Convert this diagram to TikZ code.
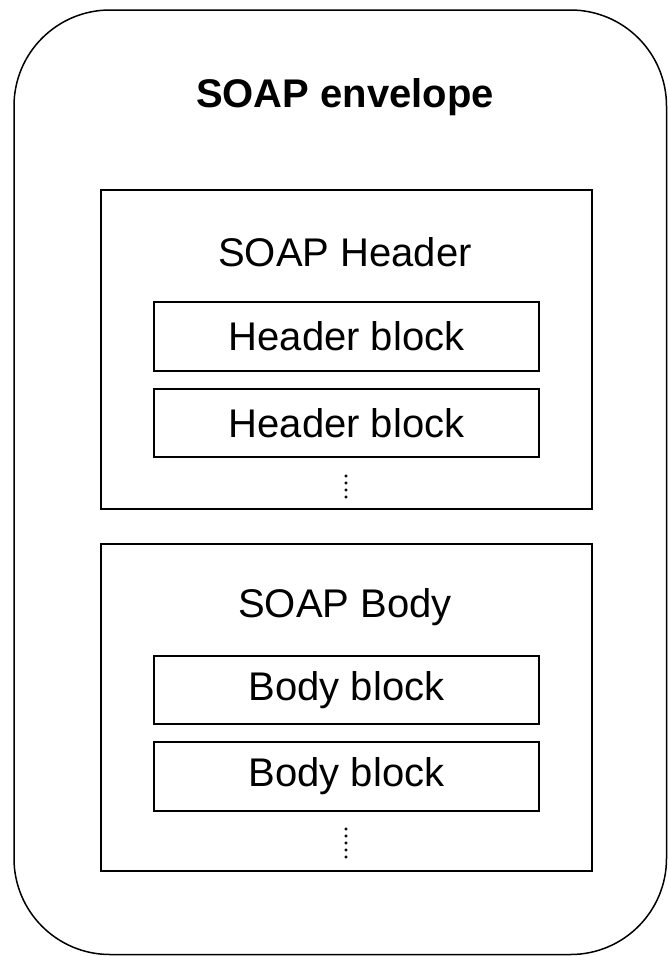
\documentclass[tikz,border=0pt]{standalone}
\usepackage{fontspec}
\setmainfont{Liberation Sans}
\tikzset{
  txt/.style={font=\fontsize{40}{48}\selectfont, inner sep=0pt},
  partbox/.style={draw=black, line width=1.5pt, minimum width=491pt, inner sep=0pt},
  blockbox/.style={draw=black, line width=1.5pt, minimum width=385pt, inner sep=0pt, font=\fontsize{40}{48}\selectfont}
}
\begin{document}
\begin{tikzpicture}[x=1pt,y=-1pt]
\useasboundingbox (0,0) rectangle (668,956);
% envelope
\draw[color=black, line width=1.5pt, rounded corners=96pt] (14,10) rectangle (666.5,954.5);
\node[txt, font=\fontsize{40}{48}\selectfont\bfseries] (envtitle) at (345,97) {SOAP envelope};
% header part
\node[partbox, minimum height=319pt] (header) at (346.5,349.5) {};
\node[txt] (headertitle) at (345,252) {SOAP Header};
\node[blockbox, minimum height=69pt] (hblock1) at (346.5,336.5) {Header block};
\node[blockbox, minimum height=68pt] (hblock2) at (346.5,423) {Header block};
\foreach \y in {476,483,490,497}
  \filldraw[color=black] (346,\y) circle (1.4);
% body part
\node[partbox, minimum height=327pt] (body) at (346.5,707.5) {};
\node[txt] (bodytitle) at (345,607) {SOAP Body};
\node[blockbox, minimum height=68pt] (bblock1) at (346.5,690) {Body block};
\node[blockbox, minimum height=69pt] (bblock2) at (346.5,776.5) {Body block};
\foreach \y in {829,836,843,850,857}
  \filldraw[color=black] (346,\y) circle (1.4);
\end{tikzpicture}
\end{document}
